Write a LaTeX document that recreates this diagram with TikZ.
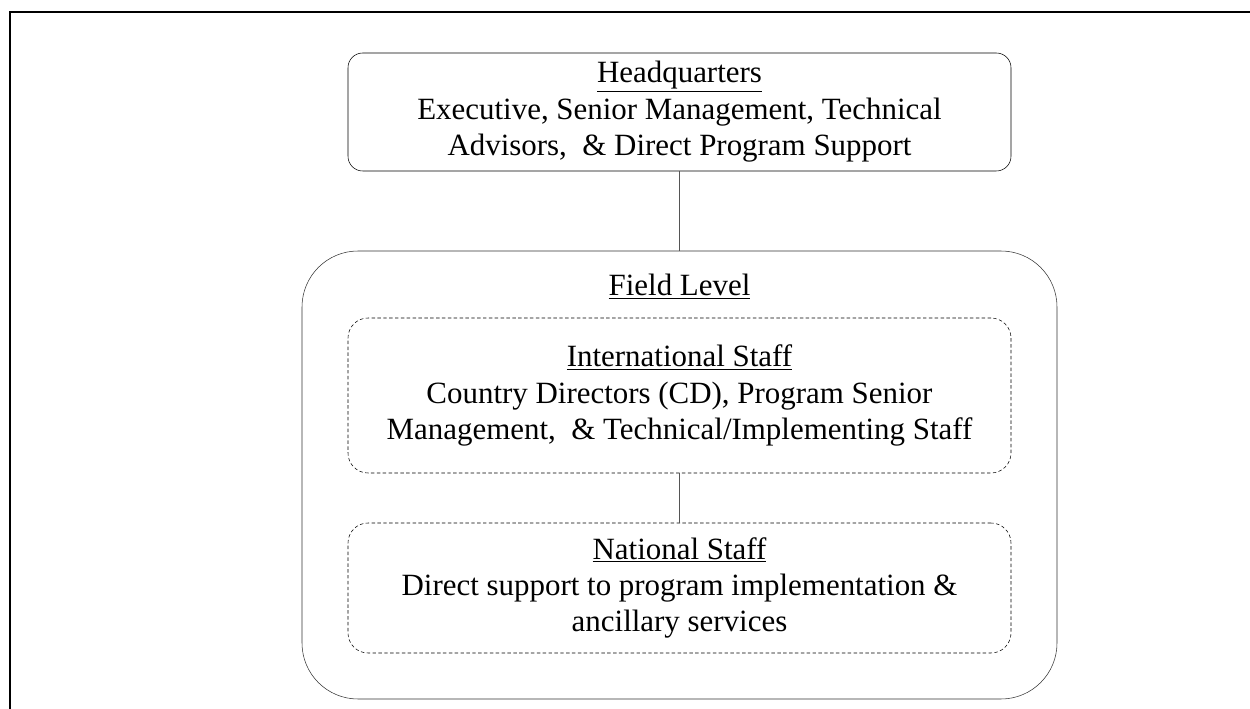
\documentclass[tikz,border=0pt]{standalone}
\usepackage{fontspec}
\setmainfont{Liberation Serif}
\usepackage{tikz}
\usetikzlibrary{calc}
\definecolor{edge}{HTML}{555555}
\tikzset{
  txt/.style={font=\fontsize{23.2}{27.3}\selectfont, align=center},
  solidbox/.style={draw, thin, rounded corners=11pt, inner sep=0pt},
  dashbox/.style={draw, thin, dash pattern=on 2.6pt off 1.8pt, rounded corners=15pt, inner sep=0pt},
  link/.style={thin, color=edge}
}

\begin{document}
\begin{tikzpicture}[x=0.75pt, y=-0.75pt]
\useasboundingbox (0,0) rectangle (1250,709);
% the page frame, only its top and left edges show
\draw[line width=1.3pt] (10,709) -- (10,12) -- (1250,12);

% headquarters
\node[solidbox, txt, minimum width=663*0.75pt, minimum height=118*0.75pt] (hq) at (679.5,112)
  {\underline{Headquarters}\\ Executive, Senior Management, Technical\\ Advisors, \ \& Direct Program Support};

% field level with its two groups of staff
\node[draw, thin, color=black!80, rounded corners=42pt, minimum width=755*0.75pt, minimum height=448*0.75pt] (field) at (679.5,475) {};
\node[txt, anchor=base] (fieldlabel) at (679.5,296) {\underline{Field Level}};

\node[dashbox, txt, minimum width=663*0.75pt, minimum height=155*0.75pt] (intl) at (679.5,395.5)
  {\underline{International Staff}\\ Country Directors (CD), Program Senior\\ Management, \ \& Technical/Implementing Staff};
\node[dashbox, txt, minimum width=663*0.75pt, minimum height=130*0.75pt] (natl) at (679.5,588)
  {\underline{National Staff}\\ Direct support to program implementation \&\\ ancillary services};

\draw[link] (hq.south) -- (field.north);
\draw[link] (intl.south) -- (natl.north);
\end{tikzpicture}
\end{document}
